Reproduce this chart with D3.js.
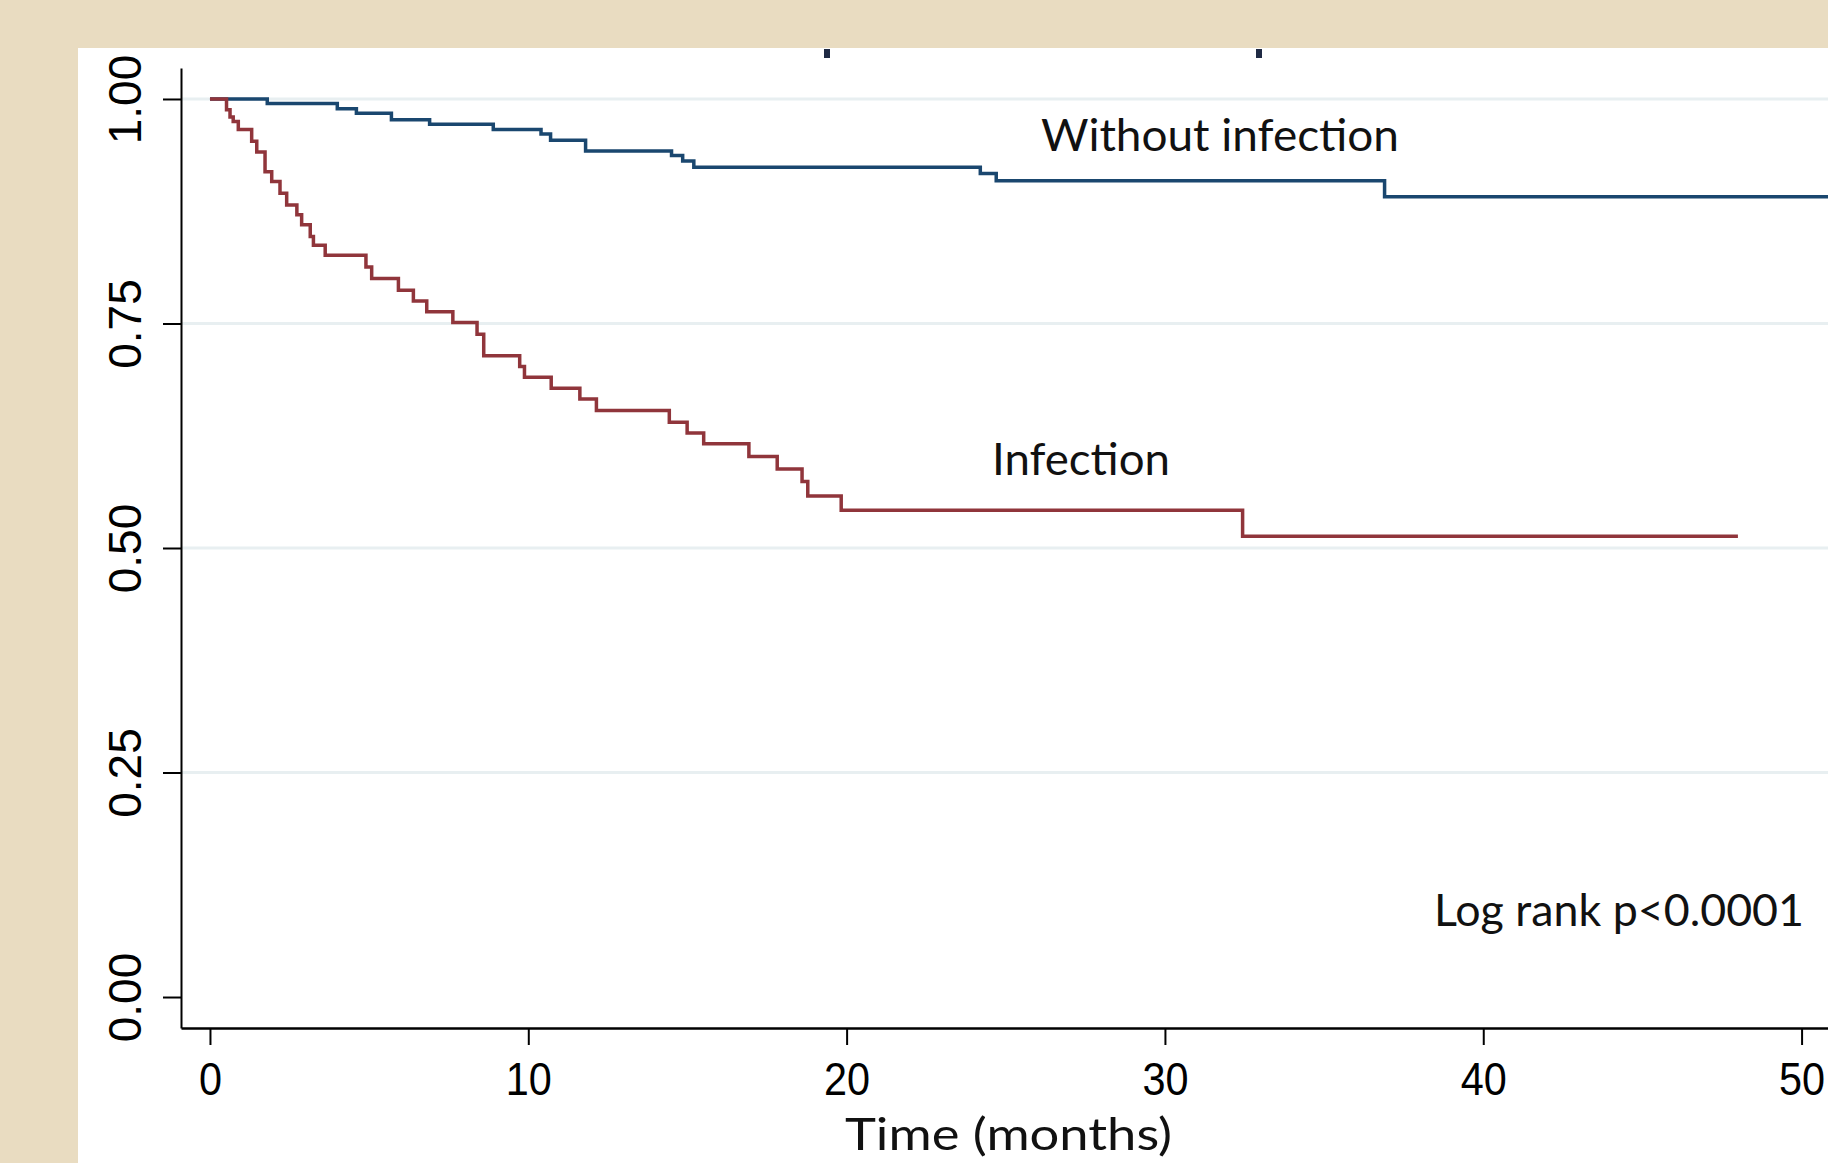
<!DOCTYPE html>
<html>
<head>
<meta charset="utf-8">
<script src="https://cdn.jsdelivr.net/npm/d3@7"></script>
<style>
    body { margin: 0; background: #e9dcc1; }
    svg { display: block; }
</style>
</head>
<body>
<div id="chart"></div>
<script>
// Kaplan-Meier estimates (time in months, survival)
const timeWithout = [0, 1.8, 4.0, 4.6, 5.7, 6.9, 8.9, 10.4, 10.7, 11.8, 14.5, 14.85, 15.2, 24.2, 24.7, 36.9, 51];
const survWithout = [1, 0.995, 0.989, 0.984, 0.977, 0.972, 0.966, 0.961, 0.954, 0.942, 0.937, 0.931, 0.924, 0.917, 0.909, 0.891, 0.891];

const timeInfection = [0, 0.52, 0.63, 0.73, 0.89, 1.31, 1.47, 1.73, 1.94, 2.2, 2.41, 2.73, 2.88, 3.15, 3.25, 3.62,
    4.9, 5.08, 5.92, 6.39, 6.81, 7.63, 8.39, 8.6, 9.73, 9.88, 10.72, 11.62, 12.14, 14.43, 14.99, 15.51,
    16.93, 17.82, 18.6, 18.78, 19.83, 32.44, 48.0];
const survInfection = [1, 0.988, 0.980, 0.975, 0.966, 0.953, 0.941, 0.919, 0.908, 0.895, 0.882, 0.871, 0.860, 0.847, 0.837, 0.826,
    0.813, 0.800, 0.787, 0.775, 0.763, 0.751, 0.738, 0.714, 0.702, 0.690, 0.678, 0.666, 0.653, 0.640, 0.628, 0.616,
    0.602, 0.588, 0.574, 0.558, 0.542, 0.513, 0.513];

const xTicks = [0, 10, 20, 30, 40, 50];
const yTicks = [0, 0.25, 0.5, 0.75, 1];
const yTickLabels = ['0.00', '0.25', '0.50', '0.75', '1.00'];
const gridTicks = [0.25, 0.5, 0.75, 1];

const svgWidth = 1828, svgHeight = 1163;

const svg = d3.select('#chart')
    .append('svg')
    .attr('width', svgWidth)
    .attr('height', svgHeight);

// Beige slide background and white plot panel
svg.append('rect')
    .attr('width', svgWidth).attr('height', svgHeight)
    .attr('fill', '#e9dcc1');
svg.append('rect')
    .attr('x', 78).attr('y', 48)
    .attr('width', svgWidth - 78).attr('height', svgHeight - 48)
    .attr('fill', '#ffffff');

// Small dark marks left at the top of the panel
svg.selectAll('.top-mark')
    .data([827, 1259])
    .enter()
    .append('rect')
    .attr('class', 'top-mark')
    .attr('x', d => d - 3).attr('y', 49)
    .attr('width', 6).attr('height', 9)
    .attr('fill', '#1f2a44');

// Scales
const xScale = d3.scaleLinear()
    .domain([-0.91, 50.83])
    .range([181, 1828]);

const yScale = d3.scaleLinear()
    .domain([-0.0345, 1.0345])
    .range([1028, 68]);

// Grid lines
svg.selectAll('.grid')
    .data(gridTicks)
    .enter()
    .append('line')
    .attr('class', 'grid')
    .attr('x1', xScale.range()[0]).attr('x2', xScale.range()[1])
    .attr('y1', d => yScale(d)).attr('y2', d => yScale(d))
    .attr('stroke', '#e8eff1')
    .attr('stroke-width', 3);

// Y axis
const yAxis = d3.axisLeft(yScale)
    .tickValues(yTicks)
    .tickSize(18)
    .tickSizeOuter(0)
    .tickFormat((d, i) => yTickLabels[i]);

const yG = svg.append('g')
    .attr('transform', 'translate(181, 0)')
    .call(yAxis);
yG.select('.domain').attr('stroke', '#000').attr('stroke-width', 2);
yG.selectAll('.tick line').attr('stroke', '#000').attr('stroke-width', 2);
yG.selectAll('.tick text')
    .attr('transform', 'rotate(-90)')
    .attr('x', 0)
    .attr('y', -40)
    .attr('dy', 0)
    .attr('text-anchor', 'middle')
    .attr('fill', '#000')
    .style('font-family', '"Liberation Sans", Arial, sans-serif')
    .style('font-size', '46px');

// X axis
const xAxis = d3.axisBottom(xScale)
    .tickValues(xTicks)
    .tickSize(17)
    .tickSizeOuter(0);

const xG = svg.append('g')
    .attr('transform', 'translate(0, 1028)')
    .call(xAxis);
xG.select('.domain').attr('stroke', '#000').attr('stroke-width', 2.6);
xG.selectAll('.tick line').attr('stroke', '#000').attr('stroke-width', 2);
xG.selectAll('.tick text')
    .attr('y', 67)
    .attr('dy', 0)
    .attr('transform', 'scale(0.9, 1)')
    .attr('fill', '#000')
    .style('font-family', '"Liberation Sans", Arial, sans-serif')
    .style('font-size', '46px');

// Survival curves
const stepLine = d3.line()
    .x(d => xScale(d[0]))
    .y(d => yScale(d[1]))
    .curve(d3.curveStepAfter);

svg.append('path')
    .datum(timeWithout.map((t, i) => [t, survWithout[i]]))
    .attr('d', stepLine)
    .attr('fill', 'none')
    .attr('stroke', '#1a476f')
    .attr('stroke-width', 3.5);

svg.append('path')
    .datum(timeInfection.map((t, i) => [t, survInfection[i]]))
    .attr('d', stepLine)
    .attr('fill', 'none')
    .attr('stroke', '#90353b')
    .attr('stroke-width', 3.5);

// Annotations
const notes = [
    { text: 'Without infection', x: 1041, y: 151, w: 358 },
    { text: 'Infection', x: 992, y: 475, w: 178 },
    { text: 'Log rank p<0.0001', x: 1434, y: 926, w: 370 },
    { text: 'Time (months)', x: 845, y: 1150, w: 327 }
];

svg.selectAll('.note')
    .data(notes)
    .enter()
    .append('text')
    .attr('class', 'note')
    .attr('x', d => d.x)
    .attr('y', d => d.y)
    .attr('textLength', d => d.w)
    .attr('lengthAdjust', 'spacingAndGlyphs')
    .attr('fill', '#111')
    .style('font-family', 'Lato, "Open Sans", sans-serif')
    .style('font-size', '45px')
    .text(d => d.text);
</script>
</body>
</html>
